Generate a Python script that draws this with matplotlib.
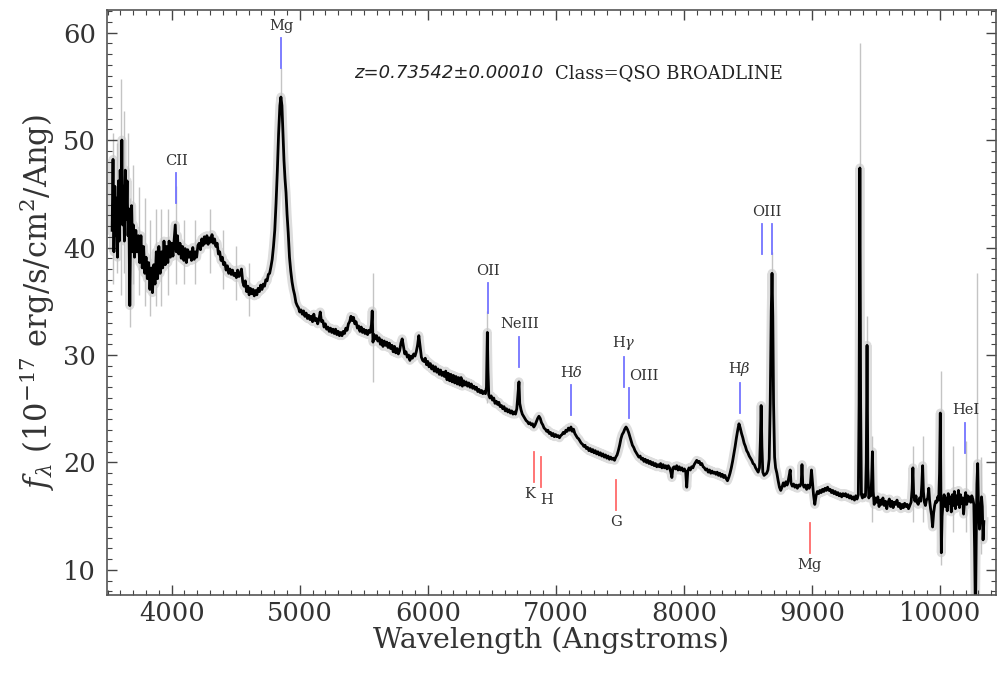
import numpy as np
import matplotlib
matplotlib.use("Agg")
import matplotlib.pyplot as plt
from matplotlib.ticker import MultipleLocator

plt.rcParams['font.family'] = ['DejaVu Serif']
plt.rcParams['mathtext.fontset'] = 'dejavuserif'

z = 0.73542
z_err = 0.00010

# smoothed spectrum (Angstrom, 1e-17 erg/s/cm^2/A)
wave = [
    3535, 3542, 3549, 3556, 3563, 3570, 3577, 3584, 3591, 3598, 3605, 3611, 3617, 3624, 3631,
    3638, 3645, 3652, 3659, 3666, 3673, 3680, 3687, 3694, 3701, 3710, 3720, 3730, 3740, 3750,
    3760, 3770, 3780, 3790, 3800, 3810, 3820, 3830, 3840, 3850, 3860, 3870, 3880, 3890, 3900,
    3910, 3920, 3930, 3940, 3950, 3960, 3970, 3980, 3990, 4000, 4010, 4020, 4028, 4036, 4045,
    4055, 4065, 4075, 4085, 4095, 4105, 4115, 4125, 4135, 4145, 4155, 4165, 4175, 4185, 4195,
    4205, 4215, 4225, 4235, 4245, 4255, 4265, 4275, 4285, 4295, 4305, 4315, 4325, 4335, 4345,
    4355, 4365, 4375, 4385, 4395, 4405, 4415, 4425, 4435, 4445, 4455, 4465, 4475, 4485, 4495,
    4505, 4515, 4525, 4535, 4545, 4555, 4565, 4575, 4585, 4595, 4605, 4615, 4625, 4635, 4645,
    4655, 4665, 4675, 4685, 4695, 4705, 4715, 4725, 4735, 4745, 4755, 4765, 4775, 4785, 4795,
    4805, 4815, 4825, 4835, 4845, 4853, 4861, 4869, 4877, 4885, 4893, 4901, 4910, 4920, 4930,
    4940, 4950, 4960, 4970, 4980, 4990, 5000, 5010, 5020, 5030, 5040, 5050, 5060, 5070, 5080,
    5090, 5100, 5110, 5120, 5130, 5140, 5150, 5160, 5170, 5180, 5190, 5200, 5210, 5220, 5230,
    5240, 5250, 5260, 5270, 5280, 5290, 5300, 5310, 5320, 5330, 5340, 5350, 5360, 5370, 5380,
    5390, 5400, 5410, 5420, 5430, 5440, 5450, 5460, 5470, 5480, 5490, 5500, 5510, 5520, 5530,
    5540, 5550, 5560, 5566, 5572, 5580, 5590, 5600, 5610, 5620, 5630, 5640, 5650, 5660, 5670,
    5680, 5690, 5700, 5710, 5720, 5730, 5740, 5750, 5760, 5770, 5780, 5790, 5800, 5810, 5820,
    5830, 5840, 5850, 5860, 5870, 5880, 5890, 5900, 5910, 5920, 5930, 5940, 5950, 5960, 5970,
    5980, 5990, 6000, 6010, 6020, 6030, 6040, 6050, 6060, 6070, 6080, 6090, 6100, 6110, 6120,
    6130, 6140, 6150, 6160, 6170, 6180, 6190, 6200, 6210, 6220, 6230, 6240, 6250, 6260, 6270,
    6280, 6290, 6300, 6310, 6320, 6330, 6340, 6350, 6360, 6370, 6380, 6390, 6400, 6410, 6420,
    6430, 6440, 6450, 6458, 6465, 6470, 6476, 6485, 6495, 6505, 6515, 6525, 6535, 6545, 6555,
    6565, 6575, 6585, 6595, 6605, 6615, 6625, 6635, 6645, 6655, 6665, 6675, 6685, 6695, 6705,
    6712, 6718, 6728, 6738, 6748, 6758, 6768, 6778, 6788, 6798, 6808, 6818, 6828, 6838, 6848,
    6858, 6868, 6878, 6888, 6898, 6908, 6918, 6928, 6938, 6948, 6958, 6968, 6978, 6988, 6998,
    7008, 7018, 7028, 7038, 7048, 7058, 7068, 7078, 7088, 7098, 7108, 7118, 7128, 7138, 7148,
    7158, 7168, 7178, 7188, 7198, 7208, 7218, 7228, 7238, 7248, 7258, 7268, 7278, 7288, 7298,
    7308, 7318, 7328, 7338, 7348, 7358, 7368, 7378, 7388, 7398, 7408, 7418, 7428, 7438, 7448,
    7458, 7468, 7478, 7488, 7498, 7508, 7518, 7528, 7538, 7548, 7558, 7568, 7578, 7588, 7598,
    7608, 7618, 7628, 7638, 7648, 7658, 7668, 7678, 7688, 7698, 7708, 7718, 7728, 7738, 7748,
    7758, 7768, 7778, 7788, 7798, 7808, 7818, 7828, 7838, 7848, 7858, 7868, 7878, 7888, 7898,
    7906, 7914, 7924, 7934, 7944, 7954, 7964, 7974, 7984, 7994, 8004, 8014, 8022, 8030, 8040,
    8050, 8060, 8070, 8080, 8090, 8100, 8110, 8120, 8130, 8140, 8150, 8160, 8170, 8180, 8190,
    8200, 8210, 8220, 8230, 8240, 8250, 8260, 8270, 8280, 8290, 8300, 8310, 8320, 8330, 8340,
    8350, 8360, 8370, 8380, 8390, 8400, 8410, 8420, 8430, 8440, 8450, 8460, 8470, 8480, 8490,
    8500, 8510, 8520, 8530, 8540, 8550, 8560, 8570, 8580, 8590, 8597, 8603, 8609, 8616, 8626,
    8636, 8646, 8656, 8666, 8674, 8682, 8688, 8694, 8700, 8708, 8716, 8726, 8736, 8746, 8756,
    8766, 8776, 8786, 8796, 8806, 8816, 8824, 8830, 8836, 8846, 8856, 8866, 8876, 8886, 8896,
    8906, 8916, 8922, 8928, 8938, 8948, 8958, 8968, 8978, 8988, 8996, 9004, 9012, 9022, 9032,
    9042, 9052, 9062, 9072, 9082, 9092, 9102, 9112, 9122, 9132, 9142, 9152, 9162, 9172, 9182,
    9192, 9202, 9212, 9222, 9232, 9242, 9252, 9262, 9272, 9282, 9292, 9302, 9312, 9322, 9332,
    9342, 9352, 9362, 9368, 9374, 9380, 9386, 9394, 9402, 9410, 9418, 9424, 9430, 9436, 9444,
    9452, 9460, 9466, 9472, 9478, 9486, 9494, 9504, 9514, 9524, 9534, 9544, 9554, 9564, 9574,
    9584, 9594, 9604, 9614, 9624, 9634, 9644, 9654, 9664, 9674, 9684, 9694, 9704, 9714, 9724,
    9734, 9744, 9754, 9764, 9774, 9782, 9788, 9794, 9804, 9812, 9820, 9830, 9840, 9850, 9858,
    9864, 9870, 9878, 9886, 9894, 9904, 9912, 9918, 9926, 9934, 9942, 9950, 9958, 9966, 9974,
    9982, 9990, 9996, 10002, 10006, 10010, 10016, 10024, 10032, 10040, 10048, 10056, 10064, 10072, 10080,
    10088, 10096, 10104, 10112, 10120, 10128, 10136, 10144, 10152, 10160, 10168, 10176, 10184, 10192, 10200,
    10208, 10216, 10224, 10232, 10240, 10248, 10256, 10264, 10270, 10276, 10282, 10288, 10294, 10300, 10308,
    10316, 10324, 10330, 10336, 10342,
]
flux = [
    41.6, 48.2, 39.6, 45.7, 41.1, 44.6, 39.1, 46.2, 40.6, 47.2, 42.6, 50.0, 42.1, 45.7, 40.6,
    47.2, 42.6, 46.2, 41.1, 43.6, 34.6, 42.1, 43.9, 39.6, 42.1, 39.1, 41.6, 39.6, 41.1, 38.6,
    41.1, 38.1, 40.1, 37.6, 39.1, 37.1, 38.6, 36.1, 38.1, 35.8, 38.4, 36.6, 39.6, 37.1, 40.1,
    37.6, 39.6, 38.1, 40.6, 38.4, 40.1, 38.6, 40.6, 39.1, 40.4, 39.2, 40.8, 42.1, 39.6, 41.1,
    39.4, 40.4, 39.0, 40.1, 38.8, 39.9, 38.6, 39.8, 39.1, 39.6, 38.8, 40.0, 38.9, 39.6, 39.1,
    40.2, 40.4, 39.8, 40.8, 40.2, 41.0, 40.4, 41.1, 40.3, 40.9, 40.5, 41.2, 40.4, 40.8, 40.1,
    40.4, 39.4, 39.6, 38.8, 39.1, 38.4, 38.6, 37.9, 38.3, 37.6, 38.0, 37.5, 37.9, 37.4, 37.6,
    37.2, 37.9, 37.3, 37.5, 38.0, 36.8, 36.4, 36.9, 35.9, 36.4, 35.6, 36.2, 35.7, 36.1, 35.5,
    36.0, 35.6, 36.2, 35.9, 36.5, 36.1, 36.6, 36.4, 37.0, 36.9, 37.5, 37.6, 38.2, 38.9, 40.1,
    41.6, 44.1, 47.1, 50.6, 53.2, 54.0, 53.2, 50.6, 48.1, 46.4, 45.1, 43.1, 41.4, 39.1, 37.8,
    36.8, 36.1, 35.6, 34.9, 34.6, 34.4, 34.0, 34.2, 33.8, 34.1, 33.6, 33.9, 33.4, 33.7, 33.3,
    33.6, 33.1, 33.8, 33.2, 33.4, 32.9, 33.3, 34.0, 33.1, 33.2, 32.6, 32.9, 32.4, 32.6, 32.2,
    32.5, 32.1, 32.4, 32.0, 32.4, 31.9, 32.2, 31.8, 32.1, 31.8, 32.2, 32.0, 32.5, 32.3, 32.9,
    33.1, 33.6, 33.2, 33.5, 32.9, 33.1, 32.5, 32.7, 32.2, 32.6, 32.1, 32.4, 32.0, 32.3, 31.9,
    32.3, 32.1, 32.8, 34.1, 31.2, 31.9, 31.5, 31.8, 31.3, 31.6, 31.0, 31.4, 30.8, 31.3, 30.9,
    31.2, 30.7, 31.1, 30.6, 30.9, 30.3, 30.8, 30.2, 30.6, 30.1, 30.4, 31.1, 31.5, 30.8, 30.1,
    30.3, 29.8, 30.0, 29.5, 29.9, 29.7, 30.1, 29.9, 30.3, 30.9, 31.8, 30.8, 29.8, 29.5, 29.4,
    29.7, 29.1, 29.4, 28.9, 29.2, 28.7, 29.0, 28.5, 28.9, 28.4, 28.7, 28.2, 28.6, 28.1, 28.4,
    28.0, 28.5, 27.7, 28.3, 27.6, 28.2, 27.5, 28.1, 27.4, 28.0, 27.3, 27.9, 27.2, 27.9, 27.1,
    27.6, 27.2, 27.5, 27.1, 27.4, 27.0, 27.3, 26.9, 27.1, 26.8, 27.0, 26.6, 26.8, 26.5, 26.7,
    26.4, 26.6, 26.4, 27.0, 32.1, 28.5, 26.3, 26.0, 26.2, 25.8, 26.0, 25.5, 25.7, 25.4, 25.6,
    25.2, 25.3, 25.0, 25.2, 24.8, 25.0, 24.7, 24.9, 24.6, 24.8, 24.5, 24.7, 24.5, 25.0, 26.5,
    27.5, 25.5, 24.9, 24.5, 24.3, 24.1, 23.9, 23.8, 23.6, 23.7, 23.5, 23.6, 23.3, 23.5, 23.8,
    24.1, 24.3, 24.1, 23.7, 23.5, 23.2, 23.1, 22.9, 23.0, 22.7, 22.8, 22.5, 22.7, 22.4, 22.6,
    22.4, 22.5, 22.3, 22.5, 22.6, 22.8, 22.7, 23.0, 22.9, 23.2, 23.0, 23.3, 22.9, 23.1, 22.7,
    22.5, 22.3, 22.2, 22.0, 21.8, 21.7, 21.5, 21.6, 21.3, 21.4, 21.1, 21.3, 21.0, 21.2, 20.9,
    21.1, 20.8, 21.0, 20.7, 20.9, 20.6, 20.8, 20.5, 20.7, 20.4, 20.6, 20.3, 20.5, 20.3, 20.4,
    20.2, 20.5, 20.7, 21.1, 21.6, 22.2, 22.6, 22.8, 23.1, 23.3, 23.1, 22.8, 22.4, 22.0, 21.6,
    21.4, 21.1, 20.9, 20.7, 20.5, 20.6, 20.3, 20.4, 20.1, 20.3, 20.0, 20.2, 19.9, 20.1, 19.8,
    20.0, 19.7, 19.9, 19.6, 19.8, 19.6, 19.9, 19.5, 19.8, 19.5, 19.7, 19.4, 19.7, 19.5, 19.1,
    18.6, 19.5, 19.6, 19.4, 19.7, 19.3, 19.6, 19.3, 19.5, 19.2, 19.4, 19.1, 17.7, 19.2, 19.5,
    19.3, 19.6, 19.5, 19.8, 20.0, 20.2, 20.0, 20.1, 19.8, 19.9, 19.6, 19.5, 19.3, 19.4, 19.1,
    19.3, 19.0, 19.2, 19.0, 19.1, 18.9, 19.1, 18.8, 19.0, 18.7, 18.9, 18.6, 18.8, 18.5, 18.3,
    18.6, 19.0, 19.5, 20.1, 20.8, 21.5, 22.3, 23.0, 23.6, 23.2, 22.7, 22.3, 21.8, 21.5, 21.1,
    20.9, 20.6, 20.4, 20.2, 19.9, 19.8, 19.5, 19.3, 19.1, 19.5, 22.0, 25.3, 21.5, 19.1, 18.8,
    18.9, 19.0, 19.3, 20.3, 25.5, 34.1, 37.6, 33.6, 25.5, 20.5, 19.5, 19.0, 18.3, 17.7, 17.4,
    17.7, 18.1, 17.8, 18.2, 17.9, 18.4, 18.9, 19.3, 18.1, 17.8, 18.0, 17.7, 17.9, 17.6, 17.9,
    17.8, 18.1, 19.8, 18.0, 17.7, 17.9, 17.5, 17.9, 17.6, 18.0, 19.3, 18.1, 17.0, 16.1, 16.9,
    17.3, 17.1, 17.4, 17.2, 17.5, 17.3, 17.6, 17.4, 17.7, 17.4, 17.5, 17.2, 17.4, 17.1, 17.3,
    17.0, 17.2, 16.9, 17.1, 16.8, 17.1, 16.9, 17.1, 16.8, 17.0, 16.7, 16.9, 16.6, 16.8, 16.5,
    16.9, 16.6, 17.0, 25.5, 47.4, 25.5, 17.0, 16.7, 17.0, 16.8, 16.9, 20.0, 30.9, 19.5, 16.7,
    17.0, 16.9, 18.5, 21.0, 17.3, 16.1, 16.7, 16.3, 16.8, 15.9, 16.5, 16.1, 16.7, 16.0, 16.4,
    15.7, 16.3, 16.6, 15.9, 16.4, 15.8, 16.3, 16.1, 16.5, 15.9, 16.2, 15.7, 16.1, 15.8, 16.2,
    15.9, 16.1, 15.7, 16.0, 16.3, 17.5, 19.5, 17.0, 16.4, 16.9, 16.3, 16.1, 16.7, 16.4, 18.0,
    19.7, 17.3, 16.3, 16.0, 16.5, 16.7, 17.6, 16.5, 15.7, 15.1, 14.0, 15.3, 16.0, 16.4, 16.3,
    16.8, 16.5, 19.0, 24.6, 18.5, 11.6, 15.0, 16.3, 17.0, 15.9, 16.7, 15.5, 17.1, 16.2, 16.8,
    15.4, 17.0, 16.0, 17.3, 15.7, 16.9, 16.1, 17.4, 15.8, 17.0, 16.2, 16.7, 15.2, 16.5, 17.2,
    16.1, 16.9, 16.4, 16.8, 16.3, 16.9, 16.6, 16.1, 12.0, 6.0, 12.5, 18.0, 19.9, 16.0, 13.8,
    15.0, 16.8, 15.9, 12.8, 14.5,
]

# unsmoothed excursions around the smoothed curve (wave, low, high)
raw_wave = [3545, 3575, 3606, 3630, 3660, 3673, 3700, 3745, 3790, 3830, 3880, 3920, 3970,
            4030, 4100, 4180, 4300, 4400, 4500, 4600, 4853, 5570, 6465, 8688, 9374, 9430,
            9472, 9788, 9864, 10005, 10100, 10200, 10285, 10320]
raw_lo = [36.6, 37.6, 35.6, 37.6, 38.6, 32.6, 36.6, 35.6, 34.6, 33.6, 34.6, 34.6, 35.6,
          36.6, 36.6, 36.6, 37.6, 36.1, 35.1, 33.6, 51.7, 27.5, 25.5, 33.6, 30.6, 20.5,
          14.5, 14.5, 14.5, 10.5, 13.5, 13.5, 7.5, 11.5]
raw_hi = [50.7, 49.7, 55.7, 52.7, 50.7, 44.6, 47.7, 45.6, 44.6, 42.6, 43.6, 43.6, 43.6,
          45.7, 42.6, 42.6, 43.6, 41.6, 40.1, 38.6, 56.7, 37.6, 34.1, 39.6, 59.0, 33.6,
          22.5, 21.5, 22.5, 28.5, 21.5, 22.0, 37.6, 20.5]

# identified lines: name, rest wavelength, emission (True) / absorption (False)
line_names = ['CII', 'Mg', 'OII', 'NeIII', r'H$\delta$', r'H$\gamma$', 'OIII', r'H$\beta$',
              'OIII', 'HeI', 'K', 'H', 'G', 'Mg']
line_rest = [2326.0, 2799.0, 3727.0, 3869.0, 4102.0, 4341.0, 4363.0, 4861.0,
             4983.0, 5876.0, 3934.0, 3969.0, 4305.0, 5175.0]
line_emis = [True, True, True, True, True, True, True, True,
             True, True, False, False, False, False]
# bottom of each marker bar (flux units)
bar_base = [44.1, 56.7, 33.9, 28.9, 24.4, 27.0, 24.1, 24.6, 39.4, 20.9, 18.2, 17.7, 15.6, 11.6]
oiii_pair = [4959.0, 5007.0]

fig = plt.figure(figsize=(9.97, 6.82), dpi=100)
ax = fig.add_axes([107 / 997, 87 / 682, 889 / 997, 585 / 682])

ax.plot(wave, flux, color='#dddddd', lw=6.5, zorder=1, solid_joinstyle='round')
ax.vlines(raw_wave, raw_lo, raw_hi, color='#c4c4c4', lw=1, zorder=1)
ax.plot(wave, flux, color='black', lw=2, zorder=2)

blue = '#7474ff'
red = '#ff6a6a'
bar_len = 2.8
lab = dict(fontsize=10.5, color='#333333')
obs = [r * (1 + z) for r in line_rest]
for name, w, em, y0 in zip(line_names, obs, line_emis, bar_base):
    if em:
        if name == 'OIII' and w > 8000:
            for r in oiii_pair:
                ax.plot([r * (1 + z)] * 2, [y0, y0 + bar_len], color=blue, lw=1.3)
            ax.text(w, y0 + bar_len + 0.5, name, ha='center', va='bottom', **lab)
        elif name == 'OIII':
            ax.plot([w, w], [y0, y0 + bar_len], color=blue, lw=1.3)
            ax.text(w, y0 + bar_len + 0.5, name, ha='left', va='bottom', **lab)
        else:
            ax.plot([w, w], [y0, y0 + bar_len], color=blue, lw=1.3)
            ax.text(w, y0 + bar_len + 0.5, name, ha='center', va='bottom', **lab)
    else:
        ax.plot([w, w], [y0, y0 + bar_len], color=red, lw=1.3)
        ha = 'right' if name == 'K' else 'center'
        dx = 15 if name == 'K' else (40 if name == 'H' else 0)
        ax.text(w + dx, y0 - 0.5, name, ha=ha, va='top', **lab)

fig.text(543 / 997, 1 - 73 / 682, 'z=%.5f\u00b1%.5f' % (z, z_err), ha='right', va='center',
         fontsize=13, family='DejaVu Sans', style='italic', color='#222222')
fig.text(555 / 997, 1 - 73 / 682, 'Class=QSO BROADLINE', ha='left', va='center',
         fontsize=13, color='#222222')

ax.set_xlim(3495, 10437)
ax.set_ylim(7.67, 62.1)
ax.xaxis.set_major_locator(MultipleLocator(1000))
ax.xaxis.set_minor_locator(MultipleLocator(100))
ax.yaxis.set_major_locator(MultipleLocator(10))
ax.yaxis.set_minor_locator(MultipleLocator(1))
ax.tick_params(which='both', direction='in', top=True, right=True, colors='#444444',
               labelcolor='#333333', labelsize=18.5)
ax.tick_params(which='major', length=7.5, width=1)
ax.tick_params(which='minor', length=3.5, width=0.8)
ax.tick_params(axis='x', pad=4)
ax.tick_params(axis='y', pad=8)
for s in ax.spines.values():
    s.set_color('#555555')
    s.set_linewidth(1.2)

ax.set_xlabel('Wavelength (Angstroms)', fontsize=20.5, color='#333333', labelpad=1)
ax.set_ylabel(r'$f_\lambda$ (10$^{-17}$ erg/s/cm$^2$/Ang)', fontsize=22, color='#333333',
              labelpad=4)

fig.savefig('out.png', dpi=100)
